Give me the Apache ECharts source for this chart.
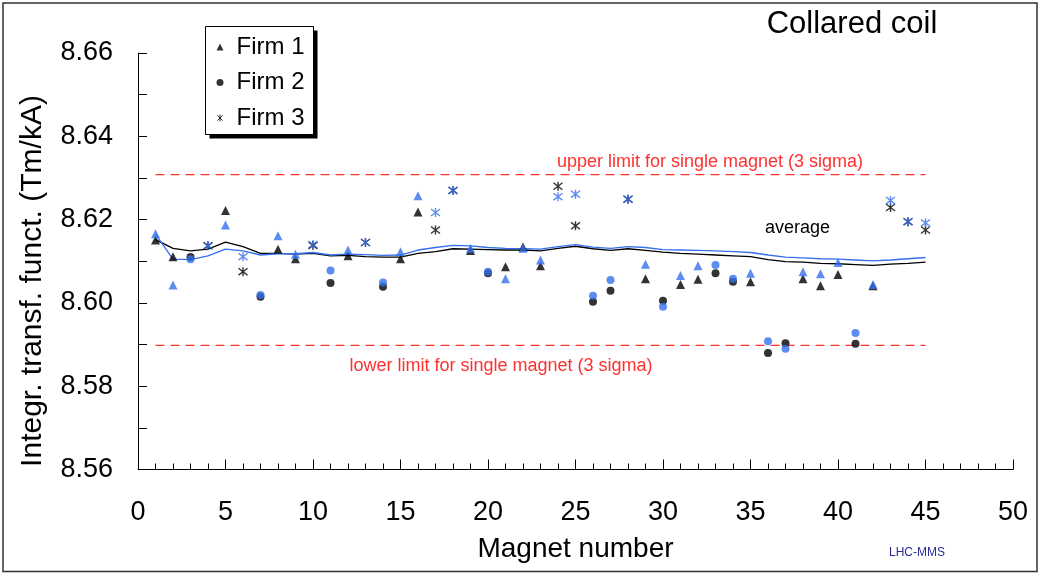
<!DOCTYPE html>
<html>
<head>
<meta charset="utf-8">
<title>Collared coil – integrated transfer function</title>
<script src="https://cdn.jsdelivr.net/npm/echarts@6/dist/echarts.min.js"></script>
<style>
  html, body { margin: 0; padding: 0; background: #fff; }
  #chart { width: 1040px; height: 573px; }
</style>
</head>
<body>
<div id="chart"></div>
<script>
// Integrated transfer function (Tm/kA) per magnet, two apertures (black / blue)

// Firm 1 (triangles)
const firm1Magnets = [1, 2, 5, 8, 9, 12, 15, 16, 19, 21, 22, 23, 29, 31, 32, 35, 38, 39, 40, 42];
const firm1Ap1 = [8.6151, 8.6111, 8.6222, 8.6129, 8.6106, 8.6113, 8.6106, 8.6218, 8.6126, 8.6087,
                  8.6134, 8.6089, 8.6058, 8.6044, 8.6057, 8.6051, 8.6058, 8.6041, 8.6068, 8.6041];
const firm1Ap2 = [8.6166, 8.6043, 8.6187, 8.6161, 8.6117, 8.6127, 8.6123, 8.6257, 8.6131, 8.6058,
                  8.6131, 8.6103, 8.6093, 8.6066, 8.6089, 8.6071, 8.6075, 8.6070, 8.6097, 8.6044];

// Firm 2 (circles)
const firm2Magnets = [3, 7, 11, 14, 20, 26, 27, 30, 33, 34, 36, 37, 41];
const firm2Ap1 = [8.6110, 8.6015, 8.6048, 8.6039, 8.6071, 8.6003, 8.6029, 8.6005, 8.6071, 8.6051,
                  8.5880, 8.5903, 8.5902];
const firm2Ap2 = [8.6105, 8.6019, 8.6078, 8.6049, 8.6075, 8.6017, 8.6055, 8.5991, 8.6091, 8.6058,
                  8.5908, 8.5890, 8.5928];

// Firm 3 (stars)
const firm3Magnets = [4, 6, 10, 13, 17, 18, 24, 25, 28, 43, 44, 45];
const firm3Ap1 = [8.6137, 8.6075, 8.6138, 8.6145, 8.6175, 8.6270, 8.6280, 8.6185, 8.6249, 8.6229,
                  8.6195, 8.6175];
const firm3Ap2 = [8.6138, 8.6111, 8.6140, 8.6145, 8.6217, 8.6270, 8.6255, 8.6261, 8.6249, 8.6246,
                  8.6195, 8.6192];

// Running average over magnets 1..45
const averageMagnets = [1, 2, 3, 4, 5, 6, 7, 8, 9, 10, 11, 12, 13, 14, 15, 16, 17, 18, 19, 20,
                        21, 22, 23, 24, 25, 26, 27, 28, 29, 30, 31, 32, 33, 34, 35, 36, 37, 38, 39, 40,
                        41, 42, 43, 44, 45];
const averageAp1 = [8.6152, 8.6131, 8.6125, 8.6129, 8.6146, 8.6135, 8.6119, 8.6119, 8.6117, 8.6119,
                    8.6113, 8.6114, 8.6111, 8.6110, 8.6110, 8.6119, 8.6123, 8.6130, 8.6129, 8.6128,
                    8.6127, 8.6127, 8.6125, 8.6131, 8.6136, 8.6130, 8.6126, 8.6130, 8.6126, 8.6122,
                    8.6119, 8.6117, 8.6115, 8.6113, 8.6111, 8.6104, 8.6099, 8.6098, 8.6095, 8.6094,
                    8.6092, 8.6090, 8.6093, 8.6095, 8.6098];
const averageAp2 = [8.6165, 8.6105, 8.6104, 8.6113, 8.6129, 8.6125, 8.6115, 8.6118, 8.6118, 8.6121,
                    8.6115, 8.6117, 8.6116, 8.6114, 8.6115, 8.6127, 8.6133, 8.6138, 8.6137, 8.6133,
                    8.6131, 8.6130, 8.6129, 8.6135, 8.6140, 8.6134, 8.6131, 8.6135, 8.6133, 8.6128,
                    8.6127, 8.6126, 8.6125, 8.6123, 8.6121, 8.6115, 8.6110, 8.6108, 8.6106, 8.6105,
                    8.6103, 8.6101, 8.6103, 8.6106, 8.6109];

// 3-sigma limits for a single magnet
const limitMagnets = [1, 45];
const upperLimit = 8.6308;
const lowerLimit = 8.5898;

// Axis ticks
const xTicks = { min: 0, max: 50, step: 5 };
const yTicks = { min: 8.56, max: 8.66, step: 0.02 };

const BLACK = '#000000';
const BLUE = '#3570ee';
const RED = '#ff3030';
const FONT = '"Liberation Sans", Arial, sans-serif';
const STAR = 'path://M0,0L10,10M10,0L0,10M5,-1.5L5,11.5';

const zip = (xs, ys) => xs.map((x, i) => [x, ys[i]]);

function scatter(name, magnets, values, symbol, size, color, stroked) {
  return {
    name: name,
    type: 'scatter',
    symbol: symbol,
    symbolSize: size,
    data: zip(magnets, values),
    itemStyle: stroked
      ? { color: color, borderColor: color, borderWidth: 1.4 }
      : { color: color },
    emphasis: { disabled: true },
    z: 3
  };
}

function line(name, magnets, values, color, width, dash, z) {
  return {
    name: name,
    type: 'line',
    data: zip(magnets, values),
    symbol: 'none',
    showSymbol: false,
    lineStyle: { color: color, width: width, type: dash || 'solid' },
    emphasis: { disabled: true },
    silent: true,
    z: z
  };
}

const chart = echarts.init(document.getElementById('chart'), null, { renderer: 'canvas' });

chart.setOption({
  animation: false,
  backgroundColor: '#ffffff',
  textStyle: { fontFamily: FONT },
  grid: { left: 138, right: 27, top: 53, bottom: 103.5, containLabel: false },
  legend: {
    data: ['Firm 1', 'Firm 2', 'Firm 3'],
    orient: 'vertical',
    left: 205,
    top: 26,
    padding: [9, 8, 4, 11.5],
    itemGap: 11.5,
    itemWidth: 7,
    itemHeight: 7,
    itemStyle: { borderWidth: 1 },
    selectedMode: false,
    z: 10,
    textStyle: { fontSize: 24, color: '#000', fontFamily: FONT, padding: [0, 0, 0, 8] }
  },
  xAxis: {
    type: 'value',
    min: xTicks.min,
    max: xTicks.max,
    interval: xTicks.step,
    name: 'Magnet number',
    nameLocation: 'middle',
    nameGap: 66,
    nameTextStyle: { fontSize: 28, color: '#000', fontFamily: FONT },
    axisLine: { show: true, lineStyle: { color: '#000', width: 1 } },
    axisTick: { show: true, inside: true, length: 10, lineStyle: { color: '#000', width: 1 } },
    minorTick: { show: true, splitNumber: 5, length: 6, lineStyle: { color: '#000', width: 1 } },
    splitLine: { show: false },
    axisLabel: { fontSize: 27, color: '#000', margin: 30, fontFamily: FONT }
  },
  yAxis: {
    type: 'value',
    min: yTicks.min,
    max: yTicks.max,
    interval: yTicks.step,
    axisLine: { show: true, lineStyle: { color: '#000', width: 1 } },
    axisTick: { show: true, inside: true, length: 9, lineStyle: { color: '#000', width: 1 } },
    minorTick: { show: true, splitNumber: 2, length: 9, lineStyle: { color: '#000', width: 1 } },
    splitLine: { show: false },
    axisLabel: {
      fontSize: 27, color: '#000', margin: 25, fontFamily: FONT,
      formatter: v => v.toFixed(2)
    }
  },
  series: [
    line('upper limit', limitMagnets, [upperLimit, upperLimit], RED, 1.2, [9, 6], 1),
    line('lower limit', limitMagnets, [lowerLimit, lowerLimit], RED, 1.2, [9, 6], 1),
    line('average', averageMagnets, averageAp1, BLACK, 1.3, null, 2),
    line('average (aperture 2)', averageMagnets, averageAp2, BLUE, 1.3, null, 2),
    scatter('Firm 1', firm1Magnets, firm1Ap1, 'triangle', 9, BLACK, false),
    scatter('Firm 2', firm2Magnets, firm2Ap1, 'circle', 8, BLACK, false),
    scatter('Firm 3', firm3Magnets, firm3Ap1, STAR, 9, BLACK, true),
    scatter('Firm 1 (aperture 2)', firm1Magnets, firm1Ap2, 'triangle', 9, BLUE, false),
    scatter('Firm 2 (aperture 2)', firm2Magnets, firm2Ap2, 'circle', 8, BLUE, false),
    scatter('Firm 3 (aperture 2)', firm3Magnets, firm3Ap2, STAR, 9, BLUE, true)
  ],
  graphic: [
    {
      type: 'rect', silent: true, z: 100,
      shape: { x: 3, y: 3, width: 1034, height: 568.5 },
      style: { fill: 'none', stroke: '#333', lineWidth: 1.5 }
    },
    // legend frame with a hard drop shadow
    {
      type: 'rect', silent: true, z: 5,
      shape: { x: 209.5, y: 30.5, width: 108, height: 108 },
      style: { fill: '#000', stroke: 'none' }
    },
    {
      type: 'rect', silent: true, z: 6,
      shape: { x: 205.5, y: 26.5, width: 108, height: 108 },
      style: { fill: '#fff', stroke: '#000', lineWidth: 1 }
    },
    {
      type: 'text', x: 33, y: 281, rotation: Math.PI / 2, silent: true,
      style: {
        text: 'Integr. transf. funct. (Tm/kA)', font: '30px ' + FONT, fill: '#000',
        align: 'center', verticalAlign: 'middle', textAlign: 'center', textVerticalAlign: 'middle'
      }
    },
    {
      type: 'text', x: 852, y: 24, silent: true,
      style: {
        text: 'Collared coil', font: '31px ' + FONT, fill: '#000',
        align: 'center', verticalAlign: 'middle', textAlign: 'center', textVerticalAlign: 'middle'
      }
    },
    {
      type: 'text', x: 710, y: 162, silent: true,
      style: {
        text: 'upper limit for single magnet (3 sigma)', font: '18px ' + FONT, fill: RED,
        align: 'center', verticalAlign: 'middle', textAlign: 'center', textVerticalAlign: 'middle'
      }
    },
    {
      type: 'text', x: 501, y: 366, silent: true,
      style: {
        text: 'lower limit for single magnet (3 sigma)', font: '18px ' + FONT, fill: RED,
        align: 'center', verticalAlign: 'middle', textAlign: 'center', textVerticalAlign: 'middle'
      }
    },
    {
      type: 'text', x: 765, y: 228, silent: true,
      style: {
        text: 'average', font: '18px ' + FONT, fill: '#000',
        align: 'left', verticalAlign: 'middle', textAlign: 'left', textVerticalAlign: 'middle'
      }
    },
    {
      type: 'text', x: 917, y: 553, silent: true,
      style: {
        text: 'LHC-MMS', font: '12px ' + FONT, fill: '#2b2b9a',
        align: 'center', verticalAlign: 'middle', textAlign: 'center', textVerticalAlign: 'middle'
      }
    }
  ]
});
</script>
</body>
</html>
